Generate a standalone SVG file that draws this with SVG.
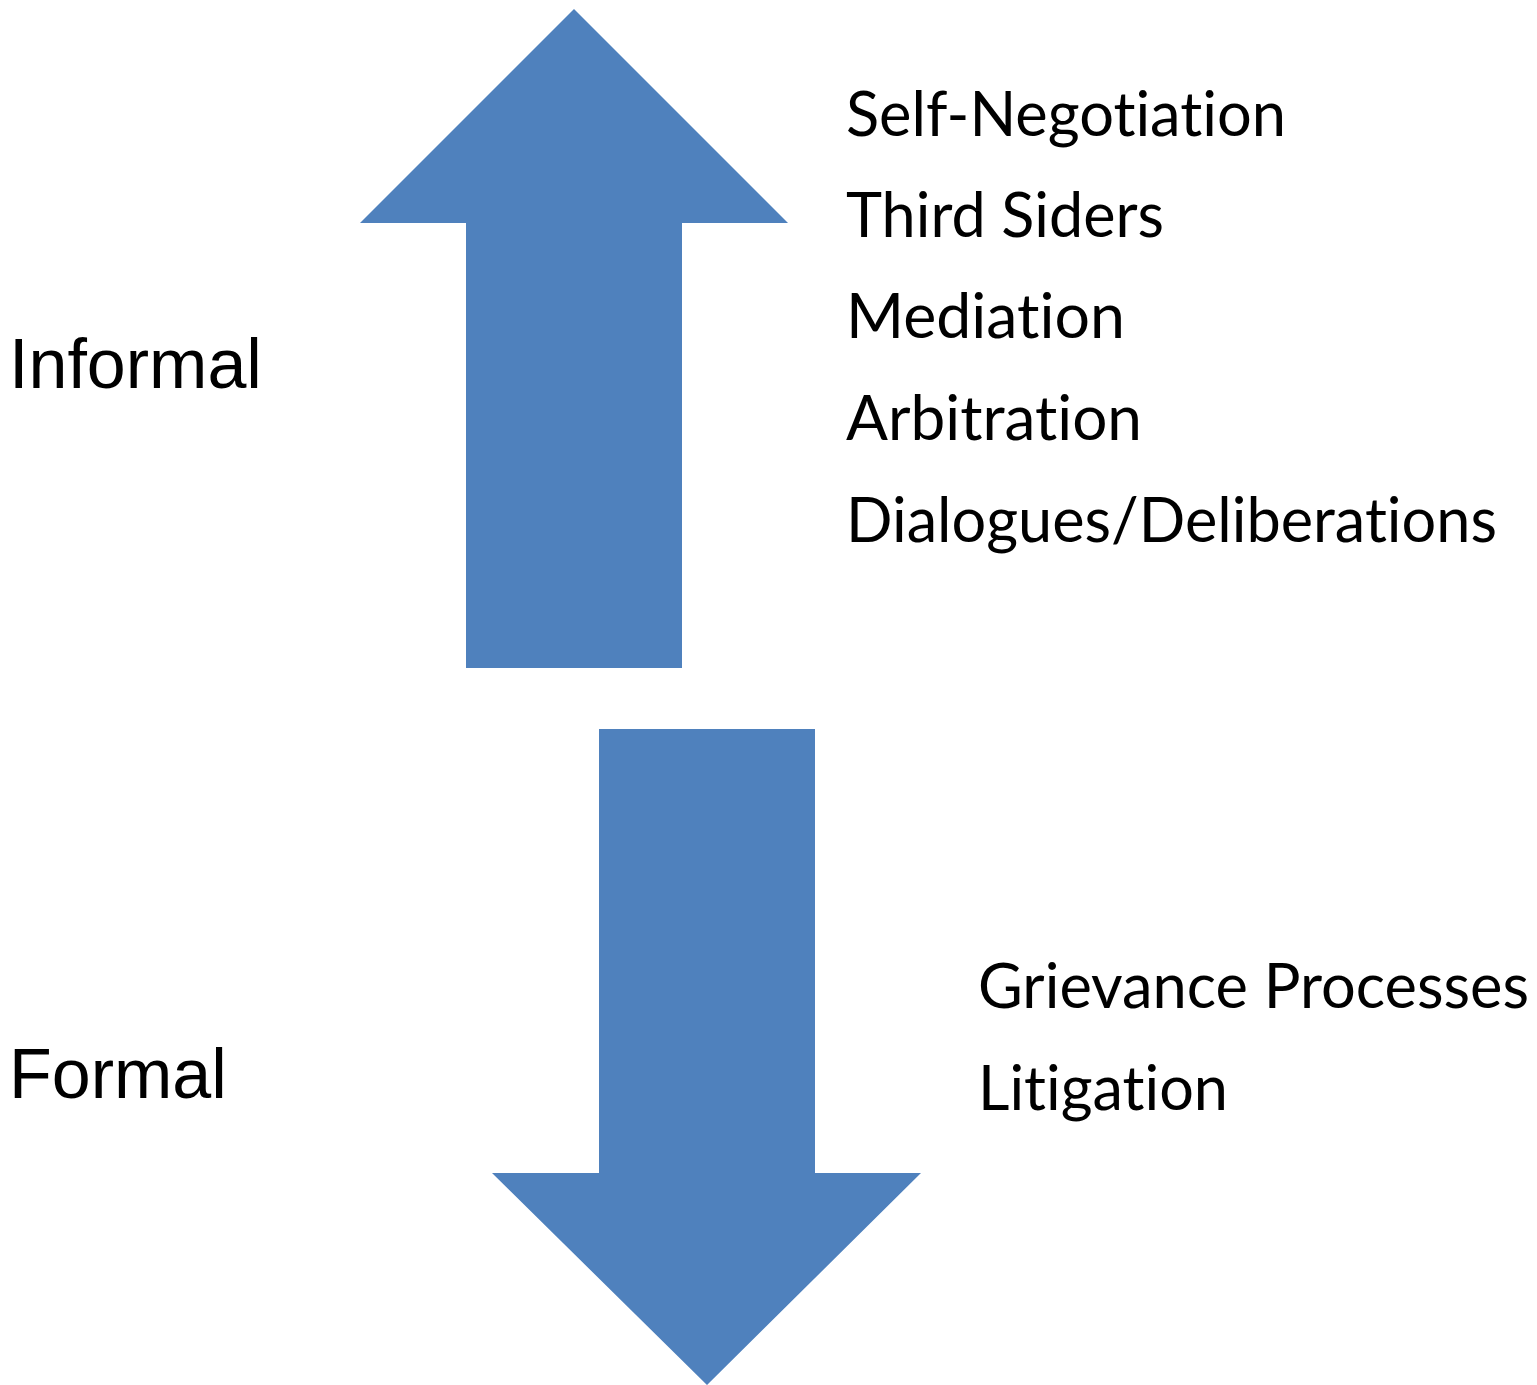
<svg xmlns="http://www.w3.org/2000/svg" width="1537" height="1385" viewBox="0 0 1537 1385">
<style>
.arrow{fill:#4F81BD;stroke:none}
.side{font-family:"Liberation Sans",Arial,sans-serif;font-size:70px;fill:#000}
.item{font-family:Lato,"Open Sans",sans-serif;font-size:61px;fill:#000;font-variant-ligatures:none;font-feature-settings:"liga" 0,"clig" 0}
</style>
<rect width="1537" height="1385" fill="#fff"/>
<g id="connectors"></g>
<g id="arrow-up"><polygon class="arrow" points="574,9 788,223 682,223 682,668 466,668 466,223 360,223"/></g>
<g id="arrow-down"><polygon class="arrow" points="599,729 815,729 815,1173 921,1173 707,1385 492,1173 599,1173"/></g>
<g id="label-informal"><text class="side" x="9" y="388">Informal</text></g>
<g id="label-formal"><text class="side" x="9" y="1098">Formal</text></g>
<g id="informal-list">
<text class="item" x="846" y="136" textLength="440" lengthAdjust="spacingAndGlyphs">Self-Negotiation</text>
<text class="item" x="846" y="237" textLength="318" lengthAdjust="spacingAndGlyphs">Third Siders</text>
<text class="item" x="846" y="338" textLength="279" lengthAdjust="spacingAndGlyphs">Mediation</text>
<text class="item" x="846" y="440" textLength="296" lengthAdjust="spacingAndGlyphs">Arbitration</text>
<text class="item" x="846" y="542" textLength="651" lengthAdjust="spacingAndGlyphs">Dialogues/Deliberations</text>
</g>
<g id="formal-list">
<text class="item" x="978" y="1008" textLength="551" lengthAdjust="spacingAndGlyphs">Grievance Processes</text>
<text class="item" x="978" y="1110" textLength="250" lengthAdjust="spacingAndGlyphs">Litigation</text>
</g>
</svg>
